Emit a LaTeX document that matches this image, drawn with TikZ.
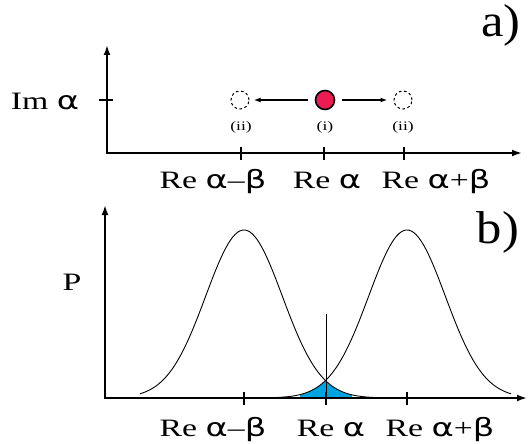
\documentclass[tikz,border=0pt]{standalone}
\usepackage{fontspec}
\setmainfont{Liberation Serif}
\newfontfamily\grkfont{DejaVu Sans}
\usepackage{xcolor}
\usepackage{tikz}
\usetikzlibrary{arrows.meta}

\definecolor{dotred}{RGB}{236,28,82}
\definecolor{overlapblue}{RGB}{0,164,224}

\newcommand{\galpha}{{\grkfont α}}
\newcommand{\gbeta}{{\grkfont β}}
\newcommand{\wide}[1]{\scalebox{1.35}[1]{#1}}
% Gaussian of the coherent state centred at #1 (picture units).
\newcommand{\gauss}[1]{398-168*exp(-0.5*((\x-#1)/38.3)^2)}

\begin{document}
\begin{tikzpicture}[
  x=1pt,
  y=-1pt,
  axis/.style={line width=2.8pt, -{Latex[length=10pt,width=7pt]}},
  tickmark/.style={line width=1.8pt},
  lbl/.style={font=\fontsize{25}{28}\selectfont, anchor=base, inner sep=0pt},
  panel/.style={font=\fontsize{46}{50}\selectfont, anchor=base, inner sep=0pt},
  small/.style={font=\fontsize{13}{15}\selectfont, inner sep=0pt},
  ghost/.style={circle, draw, dash pattern=on 2.6pt off 2.6pt, line width=1pt, minimum size=18pt, inner sep=0pt},
  dot/.style={circle, draw, fill=dotred, line width=1.6pt, minimum size=19pt, inner sep=0pt},
  shiftarr/.style={line width=1.6pt, -{Latex[length=7pt,width=5pt]}},
  curve/.style={line width=0.9pt},
]
\useasboundingbox (0,0) rectangle (528,444);

% Panel a: phase space.
\coordinate (aorig) at (107,153);
\coordinate (atop) at (107,45);
\coordinate (aright) at (522,153);
\draw[axis] (aorig) -- (atop);
\draw[axis] ([xshift=-1.4pt]aorig) -- (aright);
\foreach \t in {241,324,404}
  \draw[tickmark] (\t,147) -- (\t,160);
\draw[tickmark] (99,100) -- (113,100);

\node[lbl] (imlab) at (45,110) {\wide{Im \galpha}};
\node[panel] (alab) at (501,37) {\scalebox{1.1}[1]{a)}};

\node[dot] (ctr) at (325,100) {};
\node[ghost] (lft) at (240,100) {};
\node[ghost] (rgt) at (403,100) {};
\draw[shiftarr, shorten <=7pt, shorten >=4pt] (ctr) -- (lft);
\draw[shiftarr, shorten <=7pt, shorten >=6pt] (ctr) -- (rgt);
\node[small] (ctrlab) at (325,127) {\wide{(i)}};
\node[small] (lftlab) at (241,127) {\wide{(ii)}};
\node[small] (rgtlab) at (403,127) {\wide{(ii)}};

\node[lbl] (ra1) at (213,188) {\wide{Re \galpha–\gbeta}};
\node[lbl] (ra2) at (327,188) {\wide{Re \galpha}};
\node[lbl] (ra3) at (436,188) {\wide{Re \galpha+\gbeta}};

% Panel b: distributions.
\fill[overlapblue] (300,398)
  -- plot[domain=300:326, samples=20] (\x,{\gauss{407}})
  -- plot[domain=326:352, samples=20] (\x,{\gauss{244}})
  -- (352,398) -- cycle;
\draw[curve] plot[domain=140:430, samples=120] (\x,{\gauss{244}});
\draw[curve] plot[domain=222:511, samples=120] (\x,{\gauss{407}});
\draw[line width=0.5pt] (326,314) -- (326,404);

\coordinate (borig) at (105,398);
\coordinate (btop) at (105,205);
\coordinate (bright) at (527,398);
\draw[axis] (borig) -- (btop);
\draw[axis] ([xshift=-1.4pt]borig) -- (bright);
\foreach \t in {244,326,407}
  \draw[tickmark] (\t,392) -- (\t,405);

\node[lbl] (plab) at (72,290) {\wide{P}};
\node[panel] (blab) at (498,243) {\scalebox{1.1}[1]{b)}};

\node[lbl] (rb1) at (213,436) {\wide{Re \galpha–\gbeta}};
\node[lbl] (rb2) at (331,436) {\wide{Re \galpha}};
\node[lbl] (rb3) at (440,436) {\wide{Re \galpha+\gbeta}};

\end{tikzpicture}
\end{document}
